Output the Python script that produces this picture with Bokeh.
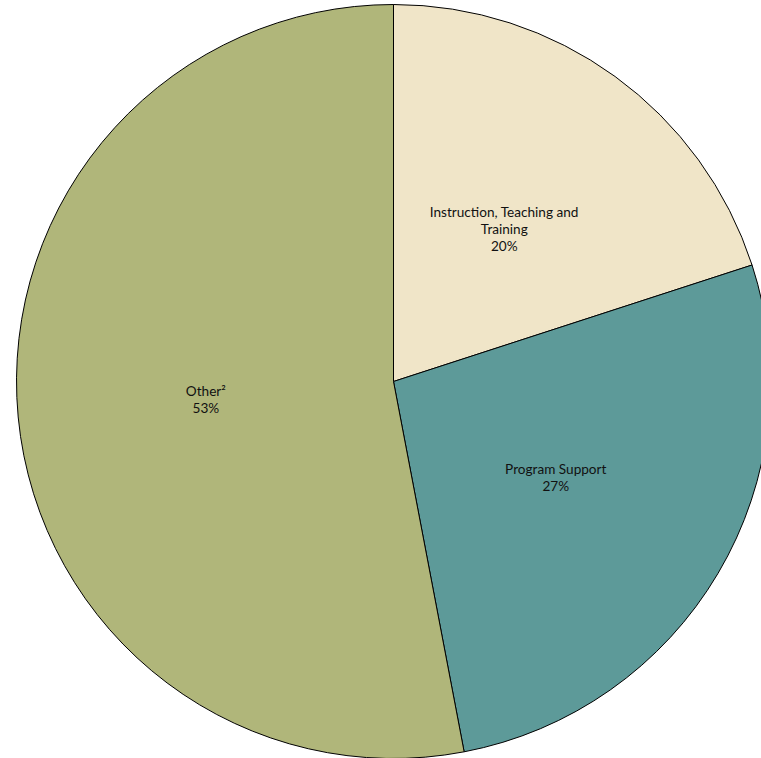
import numpy as np
from bokeh.plotting import figure
from bokeh.models import Range1d, ColumnDataSource
from bokeh.core.properties import value
from bokeh.embed import file_html
from bokeh.resources import INLINE

categories = ["Instruction, Teaching and\nTraining", "Program Support", "Other\u00b2"]
shares = [20, 27, 53]
colors = ["#F0E5C8", "#5D9A99", "#B0B67A"]

R = 377.0  # pixels per unit radius
cx, cy = 393.0, 381.0  # pie centre in pixels

W, H = 761, 758
p = figure(width=W, height=H, output_backend="svg", toolbar_location=None,
           min_border=0, outline_line_color=None,
           x_range=Range1d((0 - cx) / R, (W - cx) / R),
           y_range=Range1d((cy - H) / R, (cy - 0) / R))
p.axis.visible = False
p.grid.visible = False
p.background_fill_color = "white"
p.border_fill_color = "white"

fr = np.array(shares, dtype=float) / sum(shares)
cum = np.concatenate([[0], np.cumsum(fr)])
start = np.pi / 2 - cum[:-1] * 2 * np.pi
end = np.pi / 2 - cum[1:] * 2 * np.pi
mid = (start + end) / 2

src = ColumnDataSource(dict(start=start, end=end, color=colors))
p.wedge(x=0, y=0, radius=1.0, start_angle="start", end_angle="end",
        direction="clock", fill_color="color", line_color="black",
        line_width=1, source=src)

labels = [f"{c}\n{s}%" for c, s in zip(categories, shares)]
lsrc = ColumnDataSource(dict(x=0.5 * np.cos(mid), y=0.5 * np.sin(mid), t=labels))
p.text(x="x", y="y", text="t", source=lsrc, text_align="center",
       text_baseline="middle", text_font=value("Lato"),
       text_font_size="13.6px", text_line_height=1.05, text_color="#111111")

open("out.html", "w").write(file_html(p, INLINE))
